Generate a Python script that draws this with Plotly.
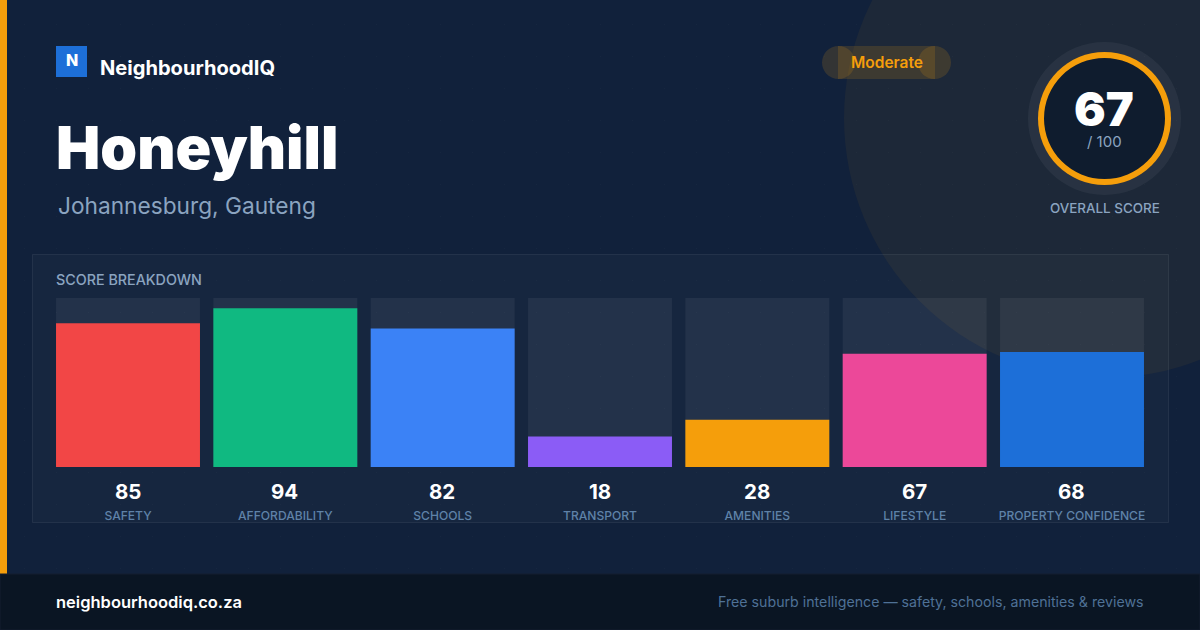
import plotly.graph_objects as go

categories = ["SAFETY", "AFFORDABILITY", "SCHOOLS", "TRANSPORT", "AMENITIES", "LIFESTYLE", "PROPERTY CONFIDENCE"]
scores = [85, 94, 82, 18, 28, 67, 68]
track = [100, 100, 100, 100, 100, 100, 100]
bar_colors = ["#f24646", "#10b981", "#3b82f6", "#8b5cf6", "#f59e0b", "#ec4899", "#1d6fd8"]

W = 1200
H = 630


def px(x):
    return x / W


def py(y):
    return 1 - y / H


def rect(x0, y0, x1, y1, fill, line=None):
    return dict(type="rect", xref="paper", yref="paper", x0=px(x0), x1=px(x1), y0=py(y1), y1=py(y0),
                fillcolor=fill, line=dict(width=1 if line else 0, color=line or "rgba(0,0,0,0)"), layer="below")


def circle(cx, cy, r, fill):
    return dict(type="circle", xref="paper", yref="paper", x0=px(cx - r), x1=px(cx + r), y0=py(cy + r), y1=py(cy - r),
                fillcolor=fill, line=dict(width=0), layer="below")


def label(x, y, text, size, color, weight=400, anchor="left", family="Inter"):
    return dict(xref="paper", yref="paper", x=px(x), y=py(y), text=text, showarrow=False, xanchor=anchor, yanchor="middle",
                font=dict(family=family, size=size, color=color, weight=weight))


# faint dot grid, one path so there are not hundreds of shapes
dots = ""
for i in range(38):
    for j in range(18):
        dx = px(24 + i * 32)
        dy = py(24 + j * 32)
        dots += f"M{dx:.5f},{dy:.5f}L{dx + px(1.2):.5f},{dy:.5f}L{dx + px(1.2):.5f},{dy - 1.2 / H:.5f}L{dx:.5f},{dy - 1.2 / H:.5f}Z"

shapes = [
    circle(1104, 118, 260, "rgba(245,158,11,0.055)"),
    dict(type="path", xref="paper", yref="paper", path=dots, fillcolor="rgba(255,255,255,0.025)", line=dict(width=0), layer="below"),
    rect(0, 0, 7, 574, "#f59e0b"),
    rect(32.5, 254.5, 1168.5, 522.5, "rgba(255,255,255,0.025)", "rgba(255,255,255,0.07)"),
    rect(0, 574, 1200, 630, "#0a1523", "#151f30"),
    rect(56, 46, 87, 77, "#1d6fd8"),
    circle(838.5, 62.5, 16.5, "rgba(245,158,11,0.15)"),
    circle(934.5, 62.5, 16.5, "rgba(245,158,11,0.15)"),
    rect(838, 46, 935, 79, "rgba(245,158,11,0.15)"),
    circle(1104.5, 118.5, 76.5, "rgba(255,255,255,0.05)"),
    circle(1104.5, 118.5, 66.5, "#f59e0b"),
    circle(1104.5, 118.5, 60.5, "#0f1c2e"),
]

annotations = [
    label(71.5, 60.5, "N", 16, "#ffffff", 800, "center"),
    label(98, 68, "NeighbourhoodIQ", 20.1, "#ffffff", 700),
    label(54, 147, "Honeyhill", 59, "#ffffff", 900),
    label(56, 206, "Johannesburg, Gauteng", 22.7, "#8ba4c0", 400),
    label(886.5, 62.5, "Moderate", 15.5, "#f59e0b", 600, "center"),
    label(1103.5, 108, "67", 47, "#ffffff", 900, "center"),
    label(1104.5, 141, "/ 100", 15, "#8ba4c0", 400, "center"),
    label(1104.5, 208, "OVERALL SCORE", 13.4, "#8ba4c0", 500, "center"),
    label(54, 279.5, "SCORE BREAKDOWN", 14.3, "#8ba4c0", 500),
    label(54, 602, "neighbourhoodiq.co.za", 16.5, "#ffffff", 600),
    label(1146, 602, "Free suburb intelligence — safety, schools, amenities &amp; reviews", 14.2, "#4f7196", 400, "right"),
]

# the score sits between the bar foot and the category tick label
for c, s in zip(categories, scores):
    annotations.append(dict(xref="x", yref="y", x=c, y=0, yshift=-24, xshift=-0.5, text=str(s), showarrow=False, yanchor="middle",
                            font=dict(family="Inter", size=20.5, color="#ffffff", weight=700)))

fig = go.Figure()
fig.add_bar(x=categories, y=track, marker=dict(color="rgba(255,255,255,0.06)", line=dict(width=0)), hoverinfo="skip")
fig.add_bar(x=categories, y=scores, marker=dict(color=bar_colors, line=dict(width=0)))

fig.update_layout(
    width=W,
    height=H,
    barmode="overlay",
    bargap=0.085,
    showlegend=False,
    margin=dict(l=0, r=0, t=0, b=0),
    paper_bgcolor="#11213b",
    plot_bgcolor="rgba(0,0,0,0)",
    shapes=shapes,
    annotations=annotations,
    xaxis=dict(domain=[px(49.33), px(1150.67)], type="category", showgrid=False, showline=False, zeroline=False,
               ticks="", ticklabelstandoff=40, tickangle=0,
               tickfont=dict(family="Inter", size=12.1, color="#5f82a8", weight=500)),
    yaxis=dict(domain=[py(467), py(298)], range=[0, 100], visible=False),
)

# page body has a default margin, take it off so the chart fills the window
fig.write_html("out.html", config={"displayModeBar": False},
               post_script="document.body.style.margin='0';document.body.style.overflow='hidden';document.body.style.background='#11213b';")
